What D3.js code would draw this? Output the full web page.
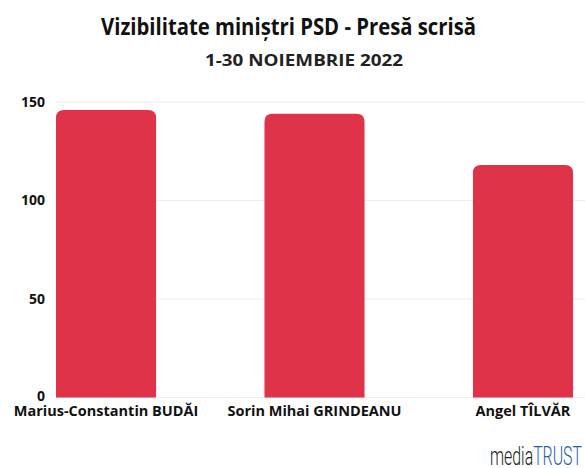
<!DOCTYPE html>
<html>
<head>
<meta charset="utf-8">
<script src="https://cdn.jsdelivr.net/npm/d3@7"></script>
<style>
  body { margin: 0; background: #fff; }
  text { font-family: "Open Sans", sans-serif; }
</style>
</head>
<body>
<div id="chart"></div>
<script>
// data
var names = ["Marius-Constantin BUDĂI", "Sorin Mihai GRINDEANU", "Angel TÎLVĂR"];
var values = [146, 144, 118];
var yTicks = [0, 50, 100, 150];

var w = 585, h = 468;
var y0 = 397.5, yTop = 102;

var svg = d3.select("#chart").append("svg")
  .attr("width", w)
  .attr("height", h);

// titles
svg.append("text")
  .attr("x", 101).attr("y", 35)
  .attr("textLength", 375)
  .attr("lengthAdjust", "spacingAndGlyphs")
  .style("font-size", "24px").style("font-weight", 700)
  .attr("fill", "#111")
  .text("Vizibilitate miniștri PSD - Presă scrisă");

svg.append("text")
  .attr("x", 205).attr("y", 66)
  .attr("textLength", 198)
  .attr("lengthAdjust", "spacingAndGlyphs")
  .style("font-size", "15.5px").style("font-weight", 700)
  .attr("fill", "#222")
  .text("1-30 NOIEMBRIE 2022");

var xScale = d3.scaleBand()
  .domain(names)
  .range([56, 573])
  .paddingInner(0.52)
  .paddingOuter(0);

var yScale = d3.scaleLinear()
  .domain([0, 150])
  .range([y0, yTop]);

// gridlines
svg.append("g").selectAll("line")
  .data(yTicks)
  .enter().append("line")
  .attr("x1", 56).attr("x2", w)
  .attr("y1", function(d) { return yScale(d); })
  .attr("y2", function(d) { return yScale(d); })
  .attr("stroke", "#ececec")
  .attr("stroke-width", 1);

// y axis
var yAxis = d3.axisLeft(yScale).tickValues(yTicks).tickSize(0).tickPadding(0);
var gy = svg.append("g")
  .attr("transform", "translate(45,0)")
  .call(yAxis);
gy.select(".domain").remove();
gy.selectAll("text")
  .style("font-family", "'Open Sans', sans-serif")
  .style("font-size", "14px").style("font-weight", 700)
  .attr("fill", "#111");
gy.selectAll("text").filter(function(d) { return d === 0; }).attr("dy", "0.2em");

// bars with rounded tops
var r = 8;
svg.selectAll(".bar")
  .data(values)
  .enter().append("path")
  .attr("class", "bar")
  .attr("fill", "#df334a")
  .attr("d", function(d, i) {
    var x = xScale(names[i]), bw = xScale.bandwidth();
    var top = yScale(d), bot = yScale(0);
    return "M" + x + "," + bot +
      "V" + (top + r) +
      "Q" + x + "," + top + " " + (x + r) + "," + top +
      "H" + (x + bw - r) +
      "Q" + (x + bw) + "," + top + " " + (x + bw) + "," + (top + r) +
      "V" + bot + "Z";
  });

// x axis labels
var xAxis = d3.axisBottom(xScale).tickSize(0).tickPadding(0);
var gx = svg.append("g")
  .attr("transform", "translate(0," + (y0 + 8) + ")")
  .call(xAxis);
gx.select(".domain").remove();
gx.selectAll("text")
  .style("font-family", "'Open Sans', sans-serif")
  .style("font-size", "14.5px").style("font-weight", 700)
  .attr("fill", "#111");

// logo
var logo = svg.append("text")
  .attr("x", 490).attr("y", 465)
  .attr("textLength", 92)
  .attr("lengthAdjust", "spacingAndGlyphs")
  .style("font-family", "'Liberation Sans Narrow', 'Roboto', sans-serif")
  .style("font-size", "26px")
  .style("font-weight", 300);
logo.append("tspan").attr("fill", "#222").text("media");
logo.append("tspan").attr("fill", "#1f5fa8").text("TRUST");
</script>
</body>
</html>
